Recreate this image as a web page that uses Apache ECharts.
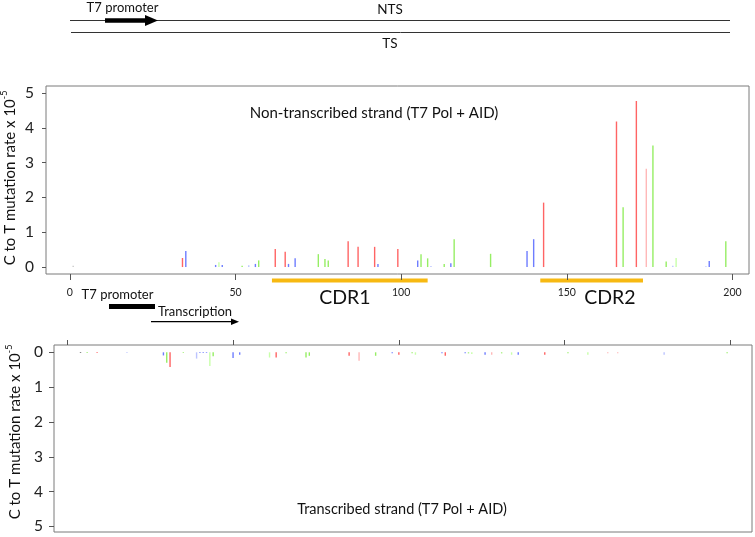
<!DOCTYPE html>
<html><head><meta charset="utf-8">
<script src="https://cdn.jsdelivr.net/npm/echarts@6/dist/echarts.min.js"></script>
<style>html,body{margin:0;padding:0;background:#fff}#c{width:755px;height:537px}</style>
</head><body><div id="c"></div>
<script>
// ---- tick labels ----
const xTicks = [0, 50, 100, 150, 200];
const yTicks = [0, 1, 2, 3, 4, 5];

// ---- Non-transcribed strand: [position, C->T rate x1e-5] ----
const ntsGray = [[1, 0.04]];
const ntsRed = [[34, 0.26], [62, 0.52], [65, 0.44], [84, 0.74], [87, 0.58], [92, 0.58], [99, 0.52], [143, 1.85], [165, 4.18], [171, 4.77]];
const ntsLightRed = [[174, 2.82]];
const ntsBlue = [[35, 0.46], [44, 0.06], [46, 0.06], [56, 0.09], [66, 0.09], [68, 0.25], [93, 0.09], [105, 0.19], [115, 0.11], [138, 0.46], [140, 0.80], [193, 0.17]];
const ntsLightBlue = [[54, 0.05], [109, 0.03], [182, 0.04], [192, 0.02]];
const ntsGreen = [[52, 0.04], [57, 0.19], [75, 0.37], [77, 0.23], [78, 0.19], [106, 0.37], [108, 0.25], [113, 0.09], [116, 0.80], [127, 0.38], [167, 1.72], [176, 3.49], [180, 0.16], [198, 0.74]];
const ntsLightGreen = [[45, 0.14], [183, 0.26]];

// ---- Transcribed strand ----
const tsGray = [[4, 0.02]];
const tsRed = [[9, 0.02], [31, 0.42], [63, 0.15], [85, 0.10], [100, 0.07], [114, 0.10], [144, 0.07]];
const tsLightRed = [[88, 0.24], [128, 0.07], [163, 0.03], [166, 0.03]];
const tsBlue = [[29, 0.09], [40, 0.02], [41, 0.02], [42, 0.02], [50, 0.16], [52, 0.07], [98, 0.03], [113, 0.03], [120, 0.03], [126, 0.07], [136, 0.07]];
const tsLightBlue = [[18, 0.02], [39, 0.18], [180, 0.07]];
const tsGreen = [[6, 0.02], [30, 0.30], [35, 0.02], [44, 0.11], [66, 0.03], [72, 0.15], [73, 0.10], [93, 0.10], [104, 0.03], [121, 0.03], [131, 0.03], [151, 0.03], [199, 0.03]];
const tsLightGreen = [[43, 0.39], [61, 0.15], [105, 0.07], [122, 0.05], [134, 0.07], [157, 0.07]];

// ---- CDR regions (sequence positions) ----
const cdrNames = ['CDR1', 'CDR2'];
const cdrStart = [61, 142];
const cdrEnd = [108, 173];
const cdrLabelAt = [83, 163];

const FONT = 'Lato, "Open Sans", sans-serif';
const C = {
  gray: '#c8c8c8', darkGray: '#555555', red: '#ff6464', lightRed: '#ffb8b8',
  blue: '#6e7dff', lightBlue: '#bcc4ff', green: '#96ee64', lightGreen: '#c8ffaa'
};

function bar(data, color, idx) {
  return {
    type: 'bar', data: data, xAxisIndex: idx, yAxisIndex: idx,
    barWidth: 1.4, barGap: '-100%', itemStyle: { color: color }, silent: true
  };
}

const chart = echarts.init(document.getElementById('c'), null, { renderer: 'canvas' });

function xAxisCfg(grid, min, max, pos, showLabel, tickLen) {
  return {
    gridIndex: grid, type: 'value', min: min, max: max, position: pos,
    axisLine: { show: false, onZero: false }, splitLine: { show: false },
    axisTick: { show: true, customValues: xTicks, length: tickLen, lineStyle: { color: '#555', width: 1 } },
    axisLabel: { show: showLabel, customValues: xTicks, fontSize: 10.5, color: '#222', margin: 13, fontFamily: FONT }
  };
}
function yAxisCfg(grid, min, max, inverse, tickLen, margin) {
  return {
    gridIndex: grid, type: 'value', min: min, max: max, inverse: inverse,
    axisLine: { show: false, onZero: false }, splitLine: { show: false },
    axisTick: { show: true, customValues: yTicks, length: tickLen, lineStyle: { color: '#555', width: 1 } },
    axisLabel: { customValues: yTicks, fontSize: 15.5, color: '#222', margin: margin, fontFamily: FONT }
  };
}

const option = {
  animation: false,
  backgroundColor: '#fff',
  grid: [
    { left: 46, top: 86, width: 703, height: 188, show: true, borderColor: '#7a7a7a', borderWidth: 1, backgroundColor: 'transparent' },
    { left: 54, top: 345, width: 698, height: 187, show: true, borderColor: '#7a7a7a', borderWidth: 1, backgroundColor: 'transparent' }
  ],
  xAxis: [
    xAxisCfg(0, -7.2, 205, 'bottom', true, 6),
    xAxisCfg(1, -4.0, 206.5, 'top', false, 5)
  ],
  yAxis: [
    yAxisCfg(0, -0.2, 5.2, false, 4, 12),
    yAxisCfg(1, -0.21, 5.16, true, 5, 11)
  ],
  series: [
    bar(ntsGray, C.gray, 0), bar(ntsLightBlue, C.lightBlue, 0), bar(ntsLightGreen, C.lightGreen, 0),
    bar(ntsLightRed, C.lightRed, 0), bar(ntsBlue, C.blue, 0), bar(ntsGreen, C.green, 0), bar(ntsRed, C.red, 0),
    bar(tsGray, C.darkGray, 1), bar(tsLightBlue, C.lightBlue, 1), bar(tsLightGreen, C.lightGreen, 1),
    bar(tsLightRed, C.lightRed, 1), bar(tsBlue, C.blue, 1), bar(tsGreen, C.green, 1), bar(tsRed, C.red, 1)
  ]
};
chart.setOption(option);

function txt(x, y, s, size, extra) {
  return Object.assign({
    type: 'text', x: x, y: y, silent: true,
    style: { text: s, fontSize: size, fontFamily: FONT, fill: '#111', align: 'center', verticalAlign: 'middle' }
  }, extra || {});
}
function yTitle(x, y) {
  return {
    type: 'text', x: x, y: y, rotation: Math.PI / 2, silent: true,
    style: {
      text: '{a|C to T mutation rate x 10}{b|-5}', align: 'center', verticalAlign: 'middle',
      rich: {
        a: { fontSize: 15, fontFamily: FONT, fill: '#111', lineHeight: 18, verticalAlign: 'bottom' },
        b: { fontSize: 9, fontFamily: FONT, fill: '#111', lineHeight: 18, verticalAlign: 'top' }
      }
    }
  };
}

const g = [];
// top strand diagram
g.push({ type: 'line', shape: { x1: 70, y1: 20.5, x2: 730, y2: 20.5 }, style: { stroke: '#333', lineWidth: 1 }, silent: true });
g.push({ type: 'line', shape: { x1: 71, y1: 32.5, x2: 730, y2: 32.5 }, style: { stroke: '#333', lineWidth: 1 }, silent: true });
g.push({ type: 'rect', shape: { x: 105, y: 18.3, width: 42, height: 4.4 }, style: { fill: '#000' }, silent: true });
g.push({ type: 'polygon', shape: { points: [[145, 15], [158, 20.5], [145, 26]] }, style: { fill: '#000' }, silent: true });
g.push(txt(122.5, 8, 'T7 promoter', 13));
g.push(txt(390, 10, 'NTS', 13.5));
g.push(txt(390, 44, 'TS', 13.5));
// panel titles
g.push(txt(374, 113, 'Non-transcribed strand (T7 Pol + AID)', 15));
g.push(txt(402, 509, 'Transcribed strand (T7 Pol + AID)', 14.5));
// y titles
g.push(yTitle(9, 178));
g.push(yTitle(14, 432));
// below-axis annotations
g.push(txt(117.5, 295, 'T7 promoter', 13));
g.push({ type: 'rect', shape: { x: 109, y: 304, width: 46, height: 5 }, style: { fill: '#000' }, silent: true });
g.push(txt(195, 311.5, 'Transcription', 13));
g.push({ type: 'line', shape: { x1: 151, y1: 321.7, x2: 233, y2: 321.7 }, style: { stroke: '#000', lineWidth: 1.2 }, silent: true });
g.push({ type: 'polygon', shape: { points: [[231, 318.5], [239, 321.7], [231, 325]] }, style: { fill: '#000' }, silent: true });

// CDR bars, positioned through the x scale
for (let i = 0; i < cdrNames.length; i++) {
  const a = chart.convertToPixel({ xAxisIndex: 0 }, cdrStart[i]);
  const b = chart.convertToPixel({ xAxisIndex: 0 }, cdrEnd[i]);
  const m = chart.convertToPixel({ xAxisIndex: 0 }, cdrLabelAt[i]);
  g.push({ type: 'rect', shape: { x: a, y: 278.5, width: b - a, height: 4 }, style: { fill: '#f7b912' }, silent: true });
  g.push(txt(m, 298, cdrNames[i], 19.5));
}
chart.setOption({ graphic: g });
</script></body></html>
